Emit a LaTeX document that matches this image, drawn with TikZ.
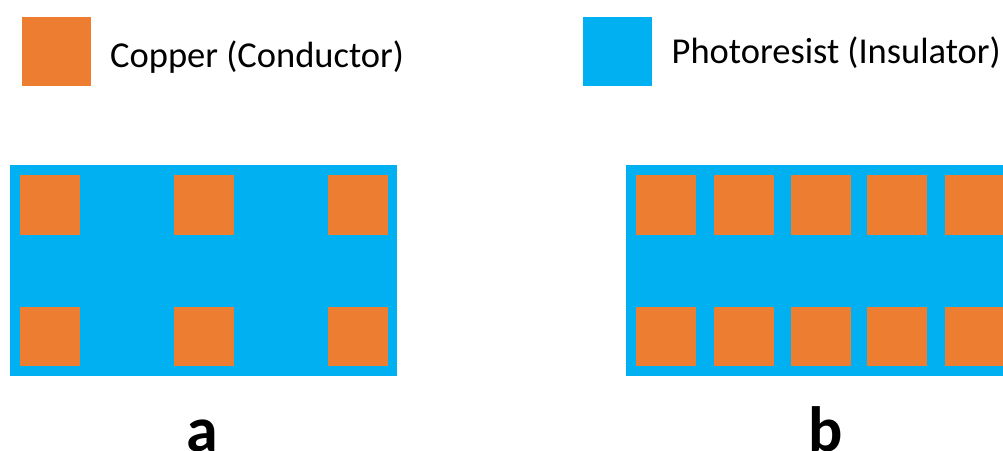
\documentclass[tikz,border=0pt]{standalone}
\usepackage{fontspec}
\setmainfont{Carlito}
\definecolor{copper}{HTML}{ED7D31}
\definecolor{resist}{HTML}{00B0F0}
\begin{document}
\begin{tikzpicture}[x=1pt,y=-1pt,
  swatch/.style={minimum size=69pt,inner sep=0pt,outer sep=0pt,anchor=north west},
  legendtext/.style={anchor=base west,inner sep=0pt,font=\fontsize{36.5}{40}\selectfont},
  panellabel/.style={anchor=base,inner sep=0pt,font=\fontsize{64}{70}\selectfont\bfseries},
  pad/.style={fill=copper}]
\useasboundingbox (0,0) rectangle (1003,450);
\clip (0,0) rectangle (1003,450);
% legend
\node[swatch,fill=copper] (cuswatch) at (21.7,17) {};
\node[legendtext] (cutext) at (110,67) {Copper (Conductor)};
\node[swatch,fill=resist] (prswatch) at (582.5,17) {};
\node[legendtext] (prtext) at (671.5,63.3) {Photoresist (Insulator)};
% panel a
\fill[resist] (10,165) rectangle (397,375.5);
\foreach \x in {20,174,328}{
  \fill[pad] (\x,175) rectangle ++(59.5,60);
  \fill[pad] (\x,306.7) rectangle ++(59.5,59);
}
% panel b
\fill[resist] (626.3,165.3) rectangle (1010,375.5);
\foreach \x in {636,713.7,790.7,867.3,945}{
  \fill[pad] (\x,175) rectangle ++(60,60);
  \fill[pad] (\x,306.7) rectangle ++(60,59);
}
\node[panellabel] (la) at (202.5,451) {a};
\node[panellabel] (lb) at (826,451) {b};
\end{tikzpicture}
\end{document}
